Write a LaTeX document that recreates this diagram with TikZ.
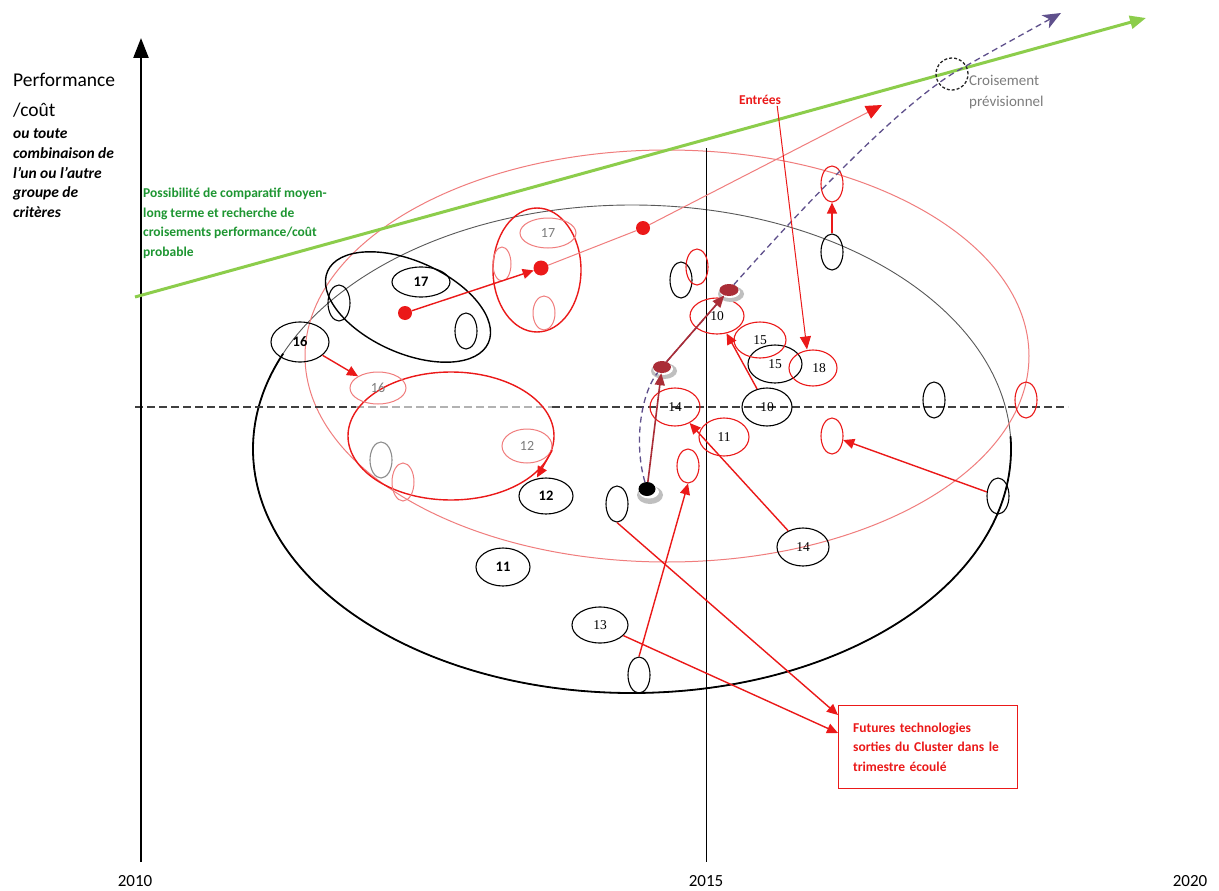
\documentclass[tikz,border=0pt]{standalone}
\usepackage{fontspec}
\setmainfont{Carlito}
\newfontfamily\numserif{Liberation Serif}
\usetikzlibrary{shapes.geometric,arrows.meta}
\definecolor{mred}{RGB}{235,25,25}
\definecolor{lred}{RGB}{240,125,125}
\definecolor{dred}{RGB}{170,45,55}
\definecolor{mgreen}{RGB}{140,205,75}
\definecolor{tgreen}{RGB}{30,150,50}
\definecolor{purp}{RGB}{95,80,140}
\definecolor{tgray}{RGB}{125,125,125}
\newcommand{\myfs}[2]{\fontsize{#1}{#2}\selectfont}
\tikzset{
  el/.style={ellipse, inner sep=0pt, line width=1.1pt},
  bl/.style={el, draw=black},
  rd/.style={el, draw=mred},
  lr/.style={el, draw=lred, line width=1pt, text=tgray, font=\myfs{14}{14}},
  wh/.style 2 args={minimum width=#1pt, minimum height=#2pt},
  vs/.style={minimum width=22pt, minimum height=36pt},
  nsans/.style={font=\bfseries\myfs{14.5}{14.5}},
  nser/.style={font=\numserif\myfs{13.5}{13.5}},
  rarr/.style={draw=mred, line width=1.4pt, -{Triangle[length=11pt,width=10pt]}},
  darr/.style={draw=dred, line width=1.6pt, -{Triangle[length=12pt,width=10pt]}},
  hdash/.style={line width=2pt, dash pattern=on 8pt off 4pt},
}
\begin{document}
\begin{tikzpicture}[x=1pt,y=-1pt]
\useasboundingbox[fill=white] (0,0) rectangle (1219,891);

% big ellipses
\draw[black!65, line width=0.9pt] (632,449) ellipse [x radius=379, y radius=244];
\draw[black, line width=1.8pt] (632,449) ++(-3:379 and 244) arc[start angle=-3, end angle=203, x radius=379, y radius=244];
\draw[lred, line width=1pt] (667,356) ellipse [x radius=362, y radius=206];

% reference lines
\draw[black!75, hdash] (135,407) -- (356,407);
\draw[black!30, hdash] (356,407) -- (552,407);
\draw[black!75, hdash] (552,407) -- (1068,407);
\draw[black, line width=1pt] (706,148) -- (706,862);
\draw[black, line width=2.4pt, -{Triangle[length=20pt,width=15pt]}] (141,862) -- (141,38);

% green trend
\coordinate (g1) at (135,297);
\coordinate (g2) at (1146,18);
\draw[mgreen, line width=3pt, -{Triangle[length=16pt,width=13pt]}] (g1) -- (g2);

% texts
\node[anchor=base west, inner sep=0pt, font=\myfs{19.5}{24}] (perf) at (13,86) {Performance};
\node[anchor=base west, inner sep=0pt, font=\myfs{19.5}{24}] (cout) at (13,117) {/coût};
\node[anchor=north west, inner sep=0pt, align=left, font=\bfseries\itshape\myfs{15.5}{19.6}] (crit) at (13,129) {ou toute\\combinaison de\\l'un ou l'autre\\groupe de\\critères};
\node[anchor=north west, inner sep=0pt, align=left, text=tgreen, font=\bfseries\myfs{13.5}{19.6}] (poss) at (143,188) {Possibilité de comparatif moyen-\\long terme et recherche de\\croisements performance/coût\\probable};
\node[text=mred, font=\bfseries\myfs{13.5}{15}, inner sep=1pt] (ent) at (760,100) {Entrées};
\node[anchor=north west, inner sep=0pt, align=left, text=tgray, font=\myfs{15}{21}] (crois) at (969,75) {Croisement\\prévisionnel};
\node[font=\myfs{17}{20}] (y2010) at (135,881) {2010};
\node[font=\myfs{17}{20}] (y2015) at (706,881) {2015};
\node[font=\myfs{17}{20}] (y2020) at (1190,881) {2020};
\node[draw=mred, line width=1.3pt, text=mred, font=\bfseries\myfs{13.5}{19.5}, align=left, text width=150pt, inner xsep=14pt, minimum width=179pt, minimum height=83pt, anchor=north west] (box) at (838,705) {Futures technologies\\sorties du Cluster dans le\\trimestre écoulé};

% crossing circle
\node[circle, draw=black!85, line width=1.3pt, dash pattern=on 3pt off 2pt, minimum size=32pt, inner sep=0pt] (cr) at (952,74) {};

% black group ellipses
\node[bl, wh={176}{92}, rotate=-24, line width=1.4pt] (bg17) at (408,307) {};
\node[bl, wh={58}{40}, nsans] (n16) at (300,342) {16};
\node[bl, wh={58}{30}, nsans] (n17) at (421,282) {17};
\node[bl, vs] (b17l) at (339,303) {};
\node[bl, vs] (b17r) at (466,331) {};

% red group 17
\node[rd, wh={88}{124}, line width=1.4pt] (rg17) at (537,270) {};
\node[lr, wh={56}{30}] (l17) at (548,233) {17};
\node[lr, wh={18}{34}] (ls1) at (502,264) {};
\node[lr, wh={22}{34}] (ls2) at (544,313) {};

% red group 12
\node[rd, wh={206}{128}, line width=1.4pt] (rg12) at (451,436) {};
\node[lr, wh={56}{32}] (l16) at (378,388) {16};
\node[lr, wh={50}{34}] (l12) at (527,446) {12};
\node[lr, wh={22}{38}] (ls3) at (403,482) {};
\node[el, draw=black!45, vs] (gs1) at (381,460) {};

% other black ellipses
\node[bl, wh={54}{36}, nsans] (n12b) at (546,496) {12};
\node[bl, wh={54}{38}, nsans] (n11b) at (503,567) {11};
\node[bl, wh={56}{36}, nser] (n13) at (600,625) {13};
\node[bl, vs] (bs1) at (617,504) {};
\node[bl, vs] (bs2) at (639,675) {};
\node[bl, wh={52}{38}, nser] (n14b) at (803,547) {14};
\node[bl, wh={54}{38}, nser] (n15b) at (775,364) {15};
\node[bl, wh={50}{38}, nser] (n10b) at (767,407) {10};
\node[bl, vs] (bs3) at (681,280) {};
\node[bl, vs] (bs4) at (832,252) {};
\node[bl, vs] (bs5) at (934,400) {};
\node[bl, vs] (bs6) at (998,496) {};

% other red ellipses
\node[rd, wh={54}{36}, nser] (r10) at (717,316) {10};
\node[rd, wh={52}{36}, nser] (r15) at (760,340) {15};
\node[rd, wh={48}{36}, nser] (r18) at (813,368) {\hspace*{12pt}18};
\node[rd, wh={50}{38}, nser] (r14) at (675,407) {14};
\node[rd, wh={50}{38}, nser] (r11) at (724,437) {11};
\node[rd, vs] (rs1) at (697,267) {};
\node[rd, vs] (rs2) at (832,184) {};
\node[rd, vs] (rs3) at (832,436) {};
\node[rd, vs] (rs4) at (1026,400) {};
\node[rd, wh={22}{34}] (rs5) at (688,466) {};

% dots
\node[circle, fill=mred, minimum size=14pt, inner sep=0pt] (p1) at (405,313) {};
\node[circle, fill=mred, minimum size=15pt, inner sep=0pt] (p2) at (541,268) {};
\node[circle, fill=mred, minimum size=14pt, inner sep=0pt] (p3) at (643,228) {};
\fill[black!25] (650,495) ellipse [x radius=13, y radius=9];
\fill[white] (649,492) ellipse [x radius=10, y radius=6.5];
\node[ellipse, fill=black, minimum width=17pt, minimum height=14pt, inner sep=0pt] (bd) at (647,489) {};
\fill[black!25] (664,371) ellipse [x radius=13, y radius=8];
\fill[white] (663,369) ellipse [x radius=10, y radius=6];
\node[ellipse, fill=dred, minimum width=18pt, minimum height=12pt, inner sep=0pt] (d1) at (662,367) {};
\fill[black!25] (731,294) ellipse [x radius=13, y radius=8];
\fill[white] (730,292) ellipse [x radius=10, y radius=6];
\node[ellipse, fill=dred, minimum width=19pt, minimum height=12pt, inner sep=0pt] (d2) at (729,290) {};

% purple forecast curve
\coordinate (e2) at (1061,13);
\draw[purp, line width=1.3pt, dash pattern=on 6pt off 4pt, -{Stealth[length=18pt,width=15pt,inset=5pt]}]
  (bd) .. controls (634,445) and (640,395) .. (d1)
  .. controls (690,335) and (712,310) .. (d2)
  .. controls (765,250) and (880,120) .. (cr.center)
  .. controls (990,52) and (1025,33) .. (e2);

% red arrows
\coordinate (e1) at (882,105);
\draw[lred, line width=1pt, -{Triangle[length=16pt,width=14pt,color=mred]}] (p2) -- (p3) -- (e1);
\draw[rarr] (p1) -- (p2);
\draw[rarr] (n16) -- (l16);
\draw[rarr] (rg12.-8) -- ([xshift=-9pt]n12b.north);
\draw[mred, line width=1pt, -{Triangle[length=13pt,width=11pt]}] ([xshift=-5pt]ent.south east) -- ([xshift=-6pt]r18.north);
\draw[darr] (bd) -- (d1);
\draw[darr] (d1) -- (d2);
\draw[rarr] (n10b) -- (r10);
\draw[rarr] (n14b) -- (r14);
\draw[rarr] (bs2.north) -- (rs5.south);
\draw[rarr] (bs1.south) -- ([yshift=-10pt]box.north west);
\draw[rarr] (n13) -- ([yshift=-28pt]box.north west);
\draw[rarr] (bs6) -- (rs3);
\draw[rarr] (bs4.north) -- (rs2.south);
\end{tikzpicture}
\end{document}
